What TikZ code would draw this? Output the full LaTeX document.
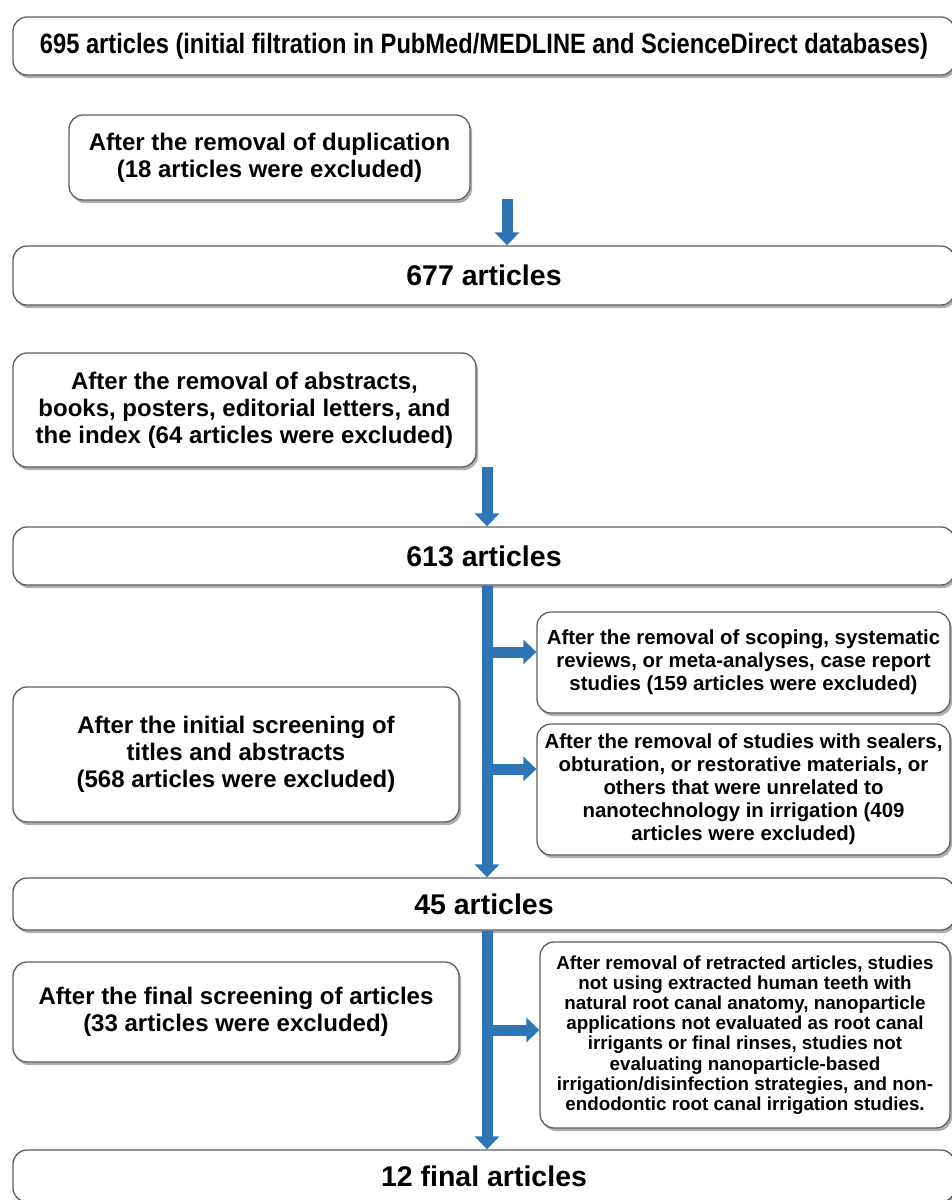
\documentclass[tikz,border=0pt]{standalone}
\usepackage{fontspec}
\usepackage{graphicx}
\setmainfont{Liberation Sans}
\usetikzlibrary{shadows,arrows.meta}
\definecolor{arrblue}{RGB}{46,117,182}
\definecolor{boxline}{RGB}{95,95,95}
\begin{document}
\begin{tikzpicture}[x=1pt,y=-1pt,
  box/.style={draw=boxline, line width=1.3pt, rounded corners=14pt, fill=white,
    drop shadow={shadow xshift=2pt,shadow yshift=-3pt,fill=black!70,opacity=0.45},
    font=\bfseries, align=center, inner sep=0pt},
  bigtxt/.style={font=\bfseries\fontsize{28.5}{34}\selectfont},
  midtxt/.style={font=\bfseries\fontsize{24}{27}\selectfont},
  smalltxt/.style={font=\bfseries\fontsize{20.4}{23}\selectfont},
  tinytxt/.style={font=\bfseries\fontsize{18.8}{20.2}\selectfont},
  bigarrow/.style={draw=arrblue, line width=11pt, -{Triangle[width=24pt,length=13pt]}}
]
\useasboundingbox (0,0) rectangle (951,1200);

\node[box, minimum width=942, minimum height=58] (top) at (484,46)
  {\resizebox{888pt}{\height}{\fontsize{28}{32}\selectfont 695 articles (initial filtration in PubMed/MEDLINE and ScienceDirect databases)}};

\node[box, midtxt, minimum width=401, minimum height=85] (dup) at (269.5,157.5)
  {After the removal of duplication\\(18 articles were excluded)};

\node[box, bigtxt, minimum width=942, minimum height=59] (n677) at (484,275.5) {677 articles};

\node[box, midtxt, minimum width=463, minimum height=114] (abs) at (244.5,410)
  {After the removal of abstracts,\\books, posters, editorial letters, and\\the index (64 articles were excluded)};

\node[box, bigtxt, minimum width=942, minimum height=58] (n613) at (484,556) {613 articles};

\node[box, smalltxt, minimum width=413, minimum height=101] (r1) at (743.5,662.5)
  {After the removal of scoping, systematic\\reviews, or meta-analyses, case report\\studies (159 articles were excluded)};

\node[box, smalltxt, minimum width=413, minimum height=131] (r2) at (743.5,789.5)
  {After the removal of studies with sealers,\\obturation, or restorative materials, or\\others that were unrelated to\\nanotechnology in irrigation (409\\articles were excluded)};

\node[box, midtxt, minimum width=446, minimum height=135] (init) at (236,754.5)
  {After the initial screening of\\titles and abstracts\\(568 articles were excluded)};

\node[box, bigtxt, minimum width=942, minimum height=52] (n45) at (484,904) {45 articles};

\node[box, midtxt, minimum width=446, minimum height=100] (fin) at (236,1012)
  {After the final screening of articles\\(33 articles were excluded)};

\node[box, tinytxt, minimum width=410, minimum height=186] (r3) at (745,1035)
  {After removal of retracted articles, studies\\not using extracted human teeth with\\natural root canal anatomy, nanoparticle\\applications not evaluated as root canal\\irrigants or final rinses, studies not\\evaluating nanoparticle-based\\irrigation/disinfection strategies, and non-\\endodontic root canal irrigation studies.};

\node[box, bigtxt, minimum width=942, minimum height=52] (n12) at (484,1176) {12 final articles};

% arrows
\coordinate (a1) at (507,199);
\draw[bigarrow] (a1) -- (a1 |- n677.north);
\coordinate (a2) at (487,467);
\draw[bigarrow] (a2) -- (a2 |- n613.north);
\coordinate (spine) at (487,0);
\draw[bigarrow] (spine |- n613.south) -- (spine |- n45.north);
\coordinate (b1) at (487,652);
\coordinate (b2) at (487,769);
\coordinate (b3) at (487,1030);
\draw[bigarrow] (b1) -- (b1 -| r1.west);
\draw[bigarrow] (b2) -- (b2 -| r2.west);
\draw[bigarrow] (spine |- n45.south) -- (spine |- n12.north);
\draw[bigarrow] (b3) -- (b3 -| r3.west);
\end{tikzpicture}
\end{document}
